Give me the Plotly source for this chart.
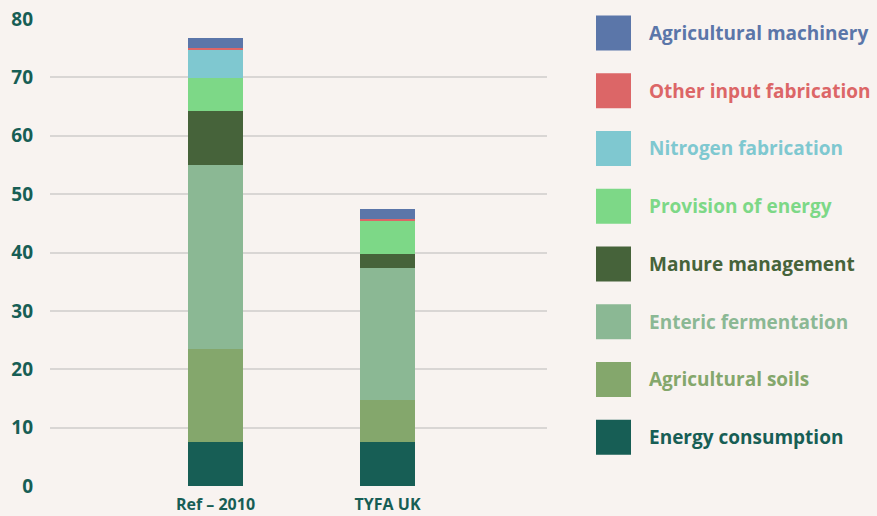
import plotly.graph_objects as go

categories = ["Ref – 2010", "TYFA UK"]
series_names = [
    "Energy consumption",
    "Agricultural soils",
    "Enteric fermentation",
    "Manure management",
    "Provision of energy",
    "Nitrogen fabrication",
    "Other input fabrication",
    "Agricultural machinery",
]
energy_consumption = [7.6, 7.6]
agricultural_soils = [15.9, 7.2]
enteric_fermentation = [31.5, 22.6]
manure_management = [9.2, 2.4]
provision_of_energy = [5.7, 5.7]
nitrogen_fabrication = [4.9, 0.0]
other_input_fabrication = [0.3, 0.3]
agricultural_machinery = [1.6, 1.6]
values = [energy_consumption, agricultural_soils, enteric_fermentation, manure_management,
          provision_of_energy, nitrogen_fabrication, other_input_fabrication, agricultural_machinery]
colors = ["#175e55", "#84a76c", "#8bb894", "#46633a", "#7dd887", "#7fc8d0", "#dc6667", "#5b76a9"]
text_colors = ["#175e55", "#84a76c", "#8bb894", "#46633a", "#7dd887", "#7fc8d0", "#dc6667", "#5b76a9"]
y_ticks = [0, 10, 20, 30, 40, 50, 60, 70, 80]

W, H = 877, 516
ML, MR, MT, MB = 50, 330, 19, 29.5
BG = "#f8f3f0"
FONT = "Open Sans"

fig = go.Figure()
for name, vals, col in zip(series_names, values, colors):
    fig.add_trace(go.Bar(x=[0, 1], y=vals, name=name, marker=dict(color=col, line=dict(width=0)),
                         width=0.32, showlegend=False, hoverinfo="skip"))

def px2paper_x(px):
    return (px - ML) / (W - ML - MR)

def px2paper_y(py):
    return (H - MB - py) / (H - MT - MB)

shapes = []
annotations = []
legend_order = list(range(len(series_names)))[::-1]
for i, idx in enumerate(legend_order):
    cy = 33 + i * 57.8
    shapes.append(dict(type="rect", xref="paper", yref="paper",
                       x0=px2paper_x(596), x1=px2paper_x(631),
                       y0=px2paper_y(cy + 17.5), y1=px2paper_y(cy - 17.5),
                       fillcolor=colors[idx], line=dict(width=0)))
    annotations.append(dict(xref="paper", yref="paper", x=px2paper_x(647), y=px2paper_y(cy),
                            text=series_names[idx], showarrow=False, xanchor="left", yanchor="middle",
                            font=dict(family=FONT, size=19, color=text_colors[idx], weight="bold")))

fig.update_layout(
    width=W, height=H,
    margin=dict(l=ML, r=MR, t=MT, b=MB, pad=0, autoexpand=False),
    paper_bgcolor=BG, plot_bgcolor=BG,
    barmode="stack", bargap=0,
    shapes=shapes, annotations=annotations,
    xaxis=dict(range=[-0.962, 1.927], tickvals=[0, 1], ticktext=categories, showgrid=False,
               zeroline=False, showline=False, ticks="", automargin=False, ticklabelstandoff=7,
               tickfont=dict(family=FONT, size=16, color="#175e55", weight="bold")),
    yaxis=dict(range=[0, 80], tickvals=y_ticks, showgrid=True, gridcolor="#d9d6d4", gridwidth=1.5,
               zeroline=False, showline=False, ticks="", ticklabelstandoff=16, automargin=False,
               tickfont=dict(family=FONT, size=19, color="#175e55", weight="bold")),
)

fig.write_html("out.html", config={"displayModeBar": False},
               post_script="document.body.style.margin='0px';document.body.style.overflow='hidden';")
